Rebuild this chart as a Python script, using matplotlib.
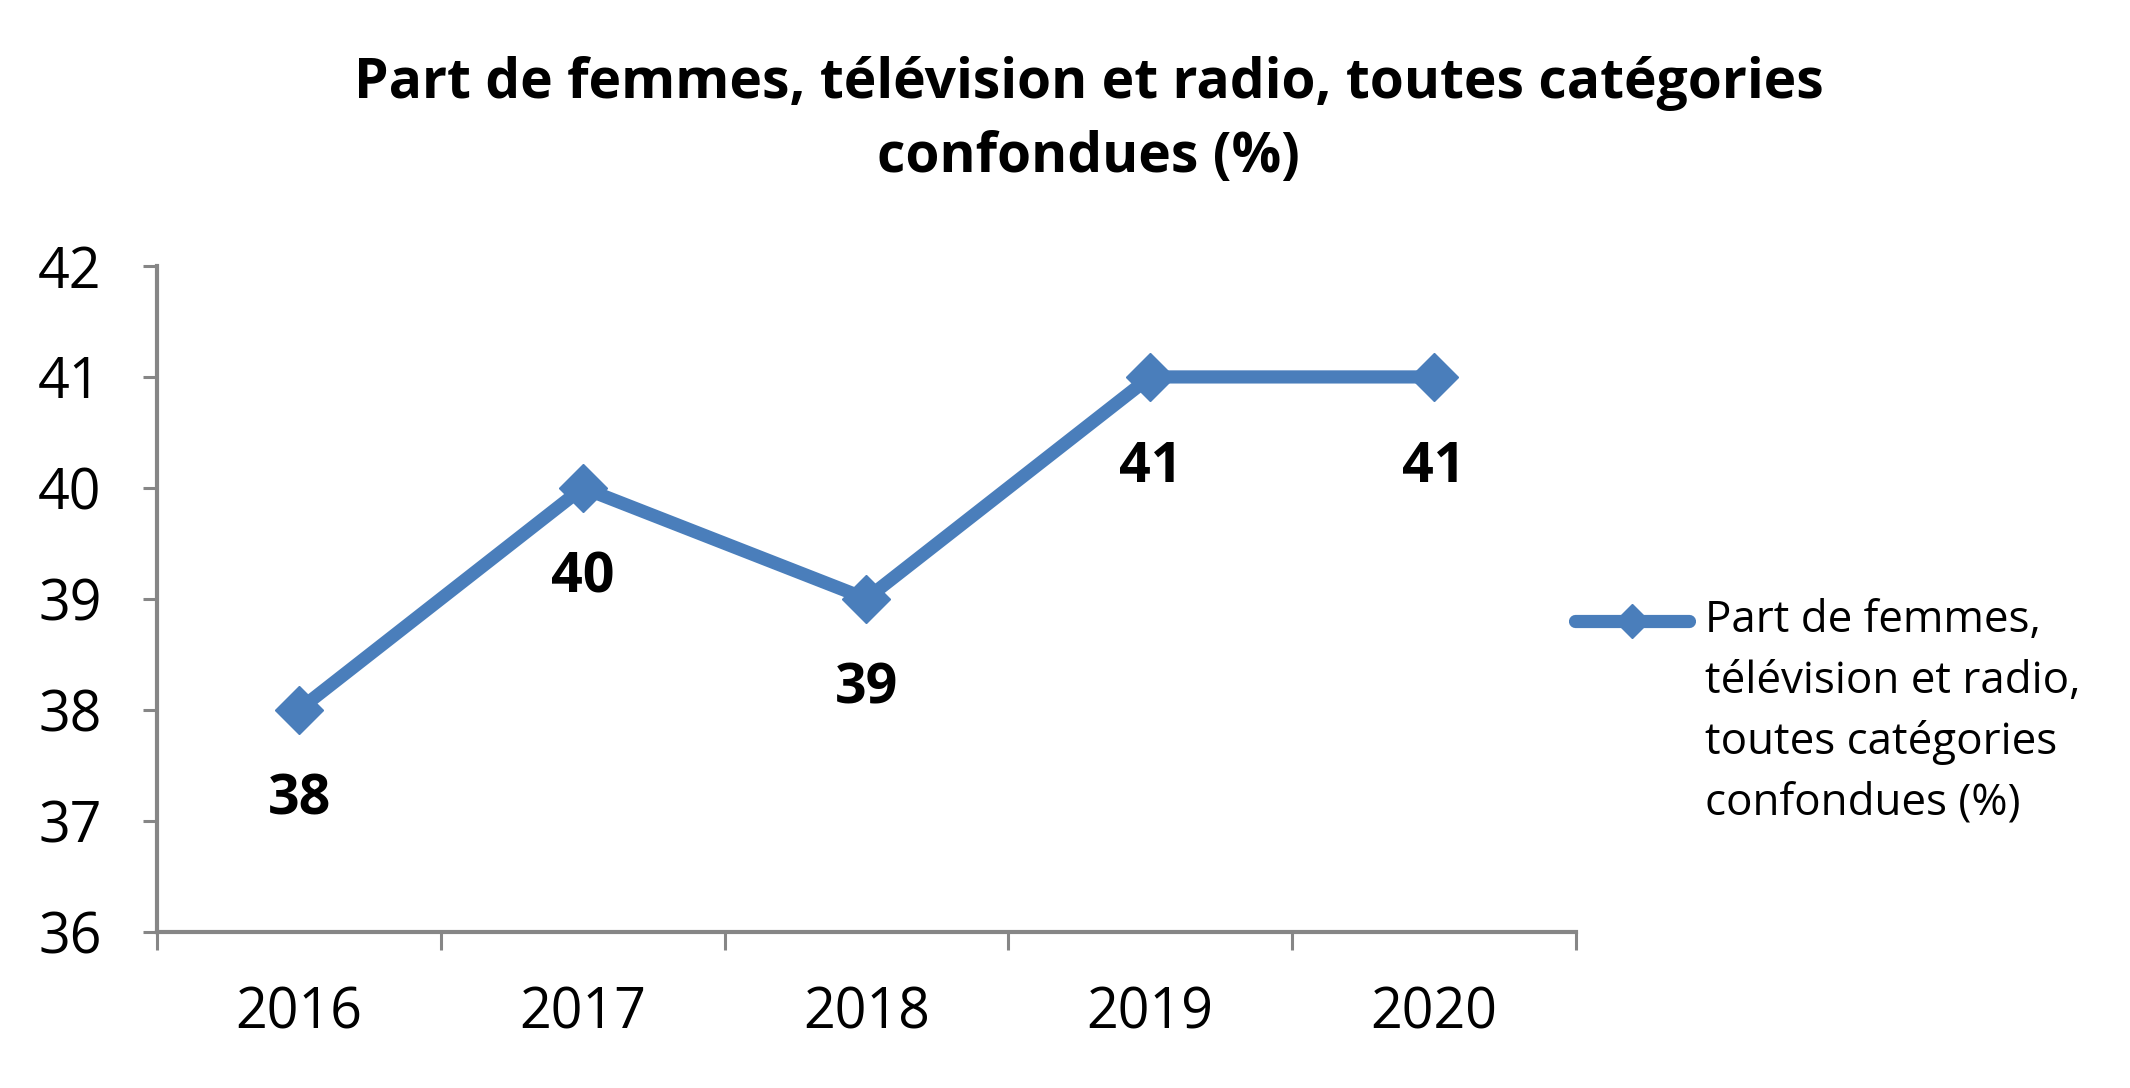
import matplotlib.pyplot as plt
from matplotlib.lines import Line2D

plt.rcParams['font.family'] = ['Open Sans', 'DejaVu Sans']

years = [2016, 2017, 2018, 2019, 2020]
share = [38, 40, 39, 41, 41]
y_ticks = [36, 37, 38, 39, 40, 41, 42]

title = "Part de femmes, télévision et radio, toutes catégories\nconfondues (%)"
legend_label = "Part de femmes,\ntélévision et radio,\ntoutes catégories\nconfondues (%)"

blue = "#4A7EBB"
grey = "#868686"

fig = plt.figure(figsize=(21.3, 10.88), dpi=100)
ax = fig.add_axes([0.0738, 0.1438, 0.6660, 0.6117])

ax.plot(years, share, color=blue, lw=9.5, marker="D", markersize=24,
        solid_joinstyle="miter", clip_on=False)

# data labels under the points
for x, v in zip(years, share):
    ax.annotate(str(v), (x, v), xytext=(0, -65), textcoords="offset points",
                ha="center", va="center", fontsize=40, fontweight="bold")

ax.set_xlim(years[0] - 0.5, years[-1] + 0.5)
ax.set_ylim(y_ticks[0], y_ticks[-1])
ax.set_yticks(y_ticks)

# category axis: ticks between categories, labels centred
ax.set_xticks([y - 0.5 for y in years] + [years[-1] + 0.5])
ax.set_xticklabels([])
ax.set_xticks(years, minor=True)
ax.set_xticklabels([str(y) for y in years], minor=True)
ax.tick_params(axis="x", which="minor", length=0, pad=39, labelsize=40)
ax.tick_params(axis="x", which="major", direction="out", length=13, width=2.2, color=grey)
ax.tick_params(axis="y", direction="out", length=10, width=2.2, color=grey,
               pad=30, labelsize=40)

for s in ["top", "right"]:
    ax.spines[s].set_visible(False)
for s in ["left", "bottom"]:
    ax.spines[s].set_color(grey)
    ax.spines[s].set_linewidth(3)

fig.text(0.511, 0.889, title, ha="center", va="center", fontsize=39.7,
         fontweight="bold", linespacing=1.445)

# legend drawn by hand so the key sits on the first text line
ly = 1 - 621 / 1088
fig.add_artist(Line2D([0.7394, 0.7660, 0.7929], [ly, ly, ly], transform=fig.transFigure,
                      color=blue, lw=9.5, marker="D", markersize=17, markevery=[1],
                      solid_capstyle="round"))
fig.text(0.8005, 1 - 712 / 1088, legend_label, ha="left", va="center", fontsize=31.6,
         linespacing=1.48, transform=fig.transFigure)

fig.savefig("out.png", dpi=100, facecolor="white")
